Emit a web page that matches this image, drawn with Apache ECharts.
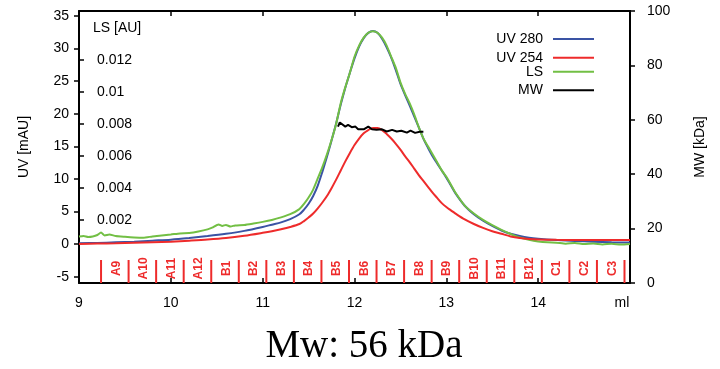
<!DOCTYPE html>
<html>
<head>
<meta charset="utf-8">
<script src="https://cdn.jsdelivr.net/npm/echarts@6/dist/echarts.min.js"></script>
<style>
  html, body { margin: 0; padding: 0; background: #fff; }
  #chart { width: 720px; height: 369px; }
</style>
</head>
<body>
<div id="chart"></div>
<script>
// Elution volume (ml) for the UV traces
const uvVolume = [9.0, 9.2, 9.4, 9.6, 9.8, 10.0, 10.2, 10.4, 10.6, 10.8, 11.0, 11.1, 11.2, 11.3, 11.4, 11.45,
  11.5, 11.55, 11.6, 11.65, 11.7, 11.75, 11.8, 11.85, 11.9, 11.95, 12.0, 12.05, 12.1, 12.15, 12.2, 12.25,
  12.3, 12.35, 12.4, 12.45, 12.5, 12.55, 12.6, 12.65, 12.7, 12.75, 12.8, 12.85, 12.9, 12.95, 13.0, 13.05,
  13.1, 13.2, 13.3, 13.4, 13.5, 13.6, 13.7, 13.8, 13.9, 14.0, 14.2, 14.4, 14.6, 14.8, 15.0];
// UV absorbance at 280 nm (mAU)
const uv280 = [0.15, 0.2, 0.3, 0.4, 0.55, 0.7, 0.95, 1.25, 1.6, 2.05, 2.65, 3.0, 3.35, 3.85, 4.6, 5.3,
  6.2, 7.4, 9.0, 11.1, 13.4, 15.9, 18.5, 21.4, 24.0, 26.3, 28.5, 30.3, 31.6, 32.4, 32.7, 32.4,
  31.5, 30.2, 28.6, 26.7, 24.6, 22.9, 21.3, 19.6, 17.9, 16.2, 14.8, 13.5, 12.4, 11.3, 10.2, 9.0,
  7.8, 5.9, 4.6, 3.6, 2.8, 2.1, 1.6, 1.25, 1.0, 0.85, 0.65, 0.5, 0.4, 0.3, 0.25];
// UV absorbance at 254 nm (mAU)
const uv254 = [0.05, 0.1, 0.15, 0.22, 0.3, 0.4, 0.55, 0.72, 0.95, 1.3, 1.75, 2.0, 2.3, 2.65, 3.1, 3.55,
  4.1, 4.7, 5.5, 6.4, 7.4, 8.6, 9.9, 11.3, 12.7, 14.0, 15.2, 16.2, 17.0, 17.5, 17.8, 17.8,
  17.5, 16.9, 16.2, 15.4, 14.5, 13.5, 12.6, 11.6, 10.6, 9.7, 8.8, 7.9, 7.1, 6.3, 5.7, 5.2,
  4.7, 3.8, 3.1, 2.5, 2.0, 1.6, 1.2, 0.95, 0.8, 0.72, 0.68, 0.66, 0.66, 0.65, 0.65];

// Light scattering trace (AU)
const lsVolume = [9.0, 9.05, 9.1, 9.15, 9.2, 9.24, 9.28, 9.33, 9.4, 9.5, 9.6, 9.7, 9.8, 9.9, 10.0, 10.1,
  10.2, 10.3, 10.4, 10.45, 10.52, 10.56, 10.6, 10.65, 10.7, 10.8, 10.9, 11.0, 11.1, 11.2, 11.3, 11.4,
  11.45, 11.5, 11.55, 11.6, 11.65, 11.7, 11.75, 11.8, 11.85, 11.9, 11.95, 12.0, 12.05, 12.1, 12.15, 12.2,
  12.25, 12.3, 12.35, 12.4, 12.45, 12.5, 12.55, 12.6, 12.65, 12.7, 12.75, 12.8, 12.85, 12.9, 12.95, 13.0,
  13.05, 13.1, 13.2, 13.3, 13.4, 13.5, 13.6, 13.7, 13.8, 13.9, 14.0, 14.1, 14.2, 14.3, 14.4, 14.5,
  14.6, 14.7, 14.8, 14.9, 15.0];
const lsSignal = [0.00096, 0.00100, 0.00094, 0.00097, 0.00106, 0.00121, 0.00103, 0.00109, 0.00100, 0.00095, 0.00091, 0.00089, 0.00097, 0.00103, 0.00109, 0.00116,
  0.00119, 0.00128, 0.00141, 0.00152, 0.00172, 0.00163, 0.00169, 0.00159, 0.00166, 0.00169, 0.00178, 0.00188, 0.00200, 0.00216, 0.00236, 0.00268,
  0.0030, 0.0034, 0.0039, 0.0046, 0.0053, 0.0061, 0.0070, 0.0080, 0.0093, 0.0103, 0.0112, 0.0122, 0.0129, 0.0134, 0.0137, 0.0138,
  0.0137, 0.0134, 0.0129, 0.0122, 0.0115, 0.0106, 0.0099, 0.0093, 0.0086, 0.0078, 0.0071, 0.0066, 0.0061, 0.0056, 0.0051, 0.0047,
  0.0042, 0.0037, 0.0029, 0.0024, 0.0020, 0.00167, 0.00138, 0.00112, 0.00090, 0.00076, 0.00066, 0.00060, 0.00058, 0.00052, 0.00056, 0.00049,
  0.00053, 0.00047, 0.00051, 0.00046, 0.00050];

// Molar mass across the peak (kDa)
const mwVolume = [11.82, 11.84, 11.86, 11.90, 11.93, 11.97, 12.01, 12.04, 12.10, 12.15, 12.19,
  12.24, 12.30, 12.35, 12.41, 12.46, 12.51, 12.57, 12.61, 12.66, 12.71, 12.75];
const mwValue = [57.5, 59.0, 58.8, 57.5, 58.1, 57.3, 57.5, 56.5, 56.5, 57.5, 56.5,
  56.3, 56.5, 55.7, 56.3, 55.7, 56.0, 55.3, 56.0, 55.2, 55.6, 55.6];

// Collected fractions: boundaries (ml) and names
const fractionEdges = [9.24, 9.54, 9.84, 10.14, 10.44, 10.74, 11.04, 11.34, 11.64, 11.94,
  12.24, 12.54, 12.84, 13.14, 13.44, 13.74, 14.04, 14.34, 14.64, 14.94];
const fractionNames = ['A9', 'A10', 'A11', 'A12', 'B1', 'B2', 'B3', 'B4', 'B5', 'B6',
  'B7', 'B8', 'B9', 'B10', 'B11', 'B12', 'C1', 'C2', 'C3'];

// Axis ticks
const uvTicks = [-5, 0, 5, 10, 15, 20, 25, 30, 35];
const lsTicks = [0.002, 0.004, 0.006, 0.008, 0.010, 0.012];
const lsTickLabels = ['0.002', '0.004', '0.006', '0.008', '0.01', '0.012'];

const seriesNames = ['UV 280', 'UV 254', 'LS', 'MW'];
const colors = { uv280: '#3a53a4', uv254: '#ee2b2b', ls: '#72bf44', mw: '#000000', frac: '#ee2b2b' };

const FONT = "'Liberation Sans', Arial, sans-serif";
const UV_MIN = -5.94, UV_MAX = 35.75;

const zip = (xs, ys) => xs.map((x, i) => [x, ys[i]]);

const axisLineStyle = { show: true, onZero: false, lineStyle: { color: '#000', width: 2 } };
const labelStyle = { color: '#000', fontSize: 14, fontFamily: FONT };

const chart = echarts.init(document.getElementById('chart'), null, { renderer: 'canvas' });

// Legend drawn as text + line pairs to the upper right of the peak
const legendY = [39, 57.7, 71.7, 90.3];
const legendColors = [colors.uv280, colors.uv254, colors.ls, colors.mw];
const legendGraphics = [];
seriesNames.forEach((name, i) => {
  legendGraphics.push({
    type: 'text', x: 543, y: legendY[i],
    style: { text: name, fill: '#000', font: '14px ' + FONT, textAlign: 'right', textVerticalAlign: 'middle' }
  });
  legendGraphics.push({
    type: 'line',
    shape: { x1: 553, y1: legendY[i], x2: 594, y2: legendY[i] },
    style: { stroke: legendColors[i], lineWidth: 2 }
  });
});

const option = {
  animation: false,
  backgroundColor: '#fff',
  title: {
    text: 'Mw: 56 kDa',
    left: 359, top: 322, textAlign: 'center',
    textStyle: { fontFamily: "'Liberation Serif', 'Times New Roman', serif", fontSize: 39, fontWeight: 'normal', color: '#000' }
  },
  grid: { left: 79, right: 90, top: 11, bottom: 86, show: false },
  xAxis: [
    {
      type: 'value', min: 9, max: 15, interval: 1, position: 'bottom',
      axisLine: axisLineStyle,
      axisTick: { show: true, inside: true, length: 5, lineStyle: { color: '#000', width: 1.5 } },
      axisLabel: Object.assign({}, labelStyle, {
        margin: 13,
        formatter: v => (v === 15 ? '{u|ml}' : String(v)),
        rich: { u: { fontSize: 14, fontFamily: FONT, color: '#000', padding: [0, 16, 0, 0] } }
      }),
      splitLine: { show: false }
    },
    {
      type: 'value', min: 9, max: 15, interval: 1, position: 'top',
      axisLine: axisLineStyle,
      axisTick: { show: true, inside: true, length: 5, lineStyle: { color: '#000', width: 1.5 } },
      axisLabel: { show: false },
      splitLine: { show: false }
    }
  ],
  yAxis: [
    {
      type: 'value', min: UV_MIN, max: UV_MAX, position: 'left',
      axisLine: axisLineStyle,
      axisTick: { show: true, length: 5, customValues: uvTicks, lineStyle: { color: '#000', width: 1.5 } },
      axisLabel: Object.assign({}, labelStyle, { margin: 10, customValues: uvTicks }),
      splitLine: { show: false },
      name: 'UV [mAU]', nameLocation: 'middle', nameGap: 48, nameRotate: 90,
      nameTextStyle: labelStyle
    },
    {
      type: 'value', min: -0.00194, max: 0.01506, position: 'left',
      axisLine: { show: false },
      axisTick: { show: true, inside: true, length: 5, customValues: lsTicks, lineStyle: { color: '#000', width: 1.5 } },
      axisLabel: Object.assign({}, labelStyle, {
        inside: true, margin: 18, customValues: lsTicks,
        formatter: v => {
          const i = lsTicks.findIndex(t => Math.abs(t - v) < 1e-9);
          return i >= 0 ? lsTickLabels[i] : '';
        }
      }),
      splitLine: { show: false }
    },
    {
      type: 'value', min: 0, max: 100, interval: 20, position: 'right',
      axisLine: axisLineStyle,
      axisTick: { show: true, length: 5, lineStyle: { color: '#000', width: 1.5 } },
      axisLabel: Object.assign({}, labelStyle, { margin: 17 }),
      splitLine: { show: false },
      name: 'MW [kDa]', nameLocation: 'middle', nameGap: 63, nameRotate: 90,
      nameTextStyle: labelStyle
    }
  ],
  graphic: legendGraphics.concat([
    {
      type: 'text', x: 93, y: 28,
      style: { text: 'LS [AU]', fill: '#000', font: '14px ' + FONT, textAlign: 'left', textVerticalAlign: 'middle' }
    }
  ]),
  series: [
    {
      name: 'UV 280', type: 'line', xAxisIndex: 0, yAxisIndex: 0,
      data: zip(uvVolume, uv280), showSymbol: false, smooth: 0.3,
      lineStyle: { color: colors.uv280, width: 2 }, z: 3
    },
    {
      name: 'LS', type: 'line', xAxisIndex: 0, yAxisIndex: 1,
      data: zip(lsVolume, lsSignal), showSymbol: false, smooth: 0.2,
      lineStyle: { color: colors.ls, width: 2 }, z: 4
    },
    {
      name: 'UV 254', type: 'line', xAxisIndex: 0, yAxisIndex: 0,
      data: zip(uvVolume, uv254), showSymbol: false, smooth: 0.3,
      lineStyle: { color: colors.uv254, width: 2 }, z: 5
    },
    {
      name: 'MW', type: 'line', xAxisIndex: 0, yAxisIndex: 2,
      data: zip(mwVolume, mwValue), showSymbol: false,
      lineStyle: { color: colors.mw, width: 2 }, z: 6
    },
    {
      // fraction boundary ticks along the bottom of the plot
      name: 'fractionEdges', type: 'custom', xAxisIndex: 0, yAxisIndex: 0,
      data: fractionEdges.map(v => [v]), clip: false, silent: true,
      renderItem: (params, api) => {
        const top = api.coord([api.value(0), -2.41]);
        const bottom = api.coord([api.value(0), UV_MIN]);
        return {
          type: 'line',
          shape: { x1: top[0], y1: top[1], x2: bottom[0], y2: bottom[1] },
          style: { stroke: colors.frac, lineWidth: 2 }
        };
      }, z: 7
    },
    {
      // fraction names, centred between boundaries
      name: 'fractionNames', type: 'custom', xAxisIndex: 0, yAxisIndex: 0,
      data: fractionNames.map((n, i) => [(fractionEdges[i] + fractionEdges[i + 1]) / 2, i]),
      clip: false, silent: true,
      renderItem: (params, api) => {
        const p = api.coord([api.value(0), -3.71]);
        return {
          type: 'text',
          x: p[0] + 1.5, y: p[1], rotation: Math.PI / 2,
          style: {
            text: fractionNames[api.value(1)], fill: colors.frac,
            font: 'bold 12px ' + FONT, textAlign: 'center', textVerticalAlign: 'middle'
          }
        };
      }, z: 7
    }
  ]
};

chart.setOption(option);
</script>
</body>
</html>
